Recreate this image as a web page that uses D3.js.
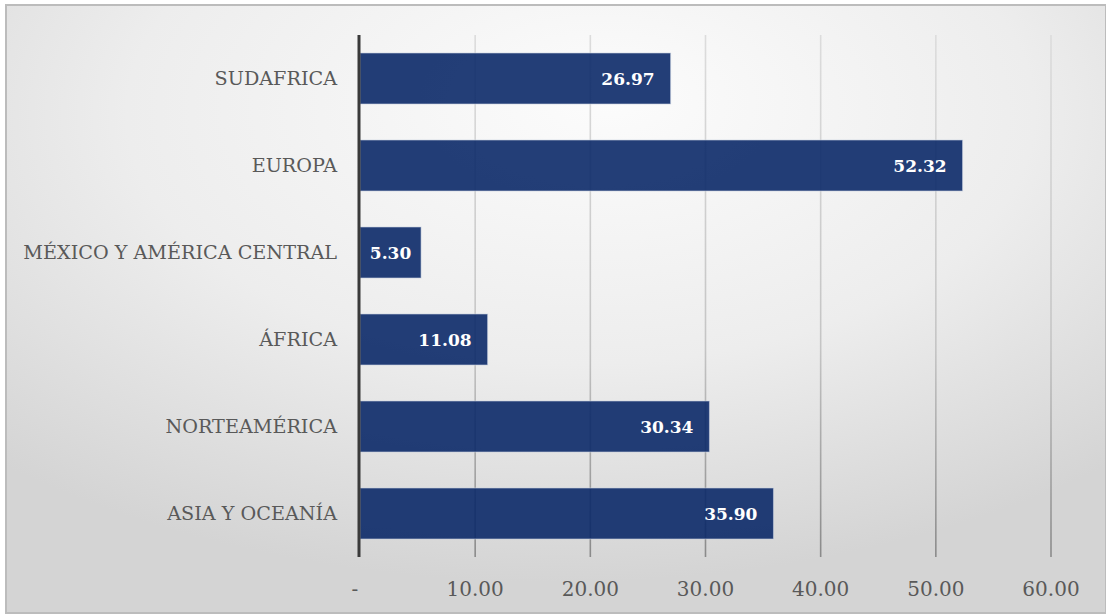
<!DOCTYPE html>
<html>
<head>
<meta charset="utf-8">
<script src="https://cdn.jsdelivr.net/npm/d3@7"></script>
<style>
  html, body { margin: 0; padding: 0; background: #ffffff; }
  svg { display: block; }
</style>
</head>
<body>
<svg id="chart" width="1106" height="615"></svg>
<script>
// Regions, listed top to bottom as drawn
const categories = [
  "SUDAFRICA",
  "EUROPA",
  "MÉXICO Y AMÉRICA CENTRAL",
  "ÁFRICA",
  "NORTEAMÉRICA",
  "ASIA Y OCEANÍA"
];
const values = [26.97, 52.32, 5.30, 11.08, 30.34, 35.90];
const tickValues = [0, 10, 20, 30, 40, 50, 60];
const tickLabels = ["-", "10.00", "20.00", "30.00", "40.00", "50.00", "60.00"];

const W = 1106, H = 615;
const margin = { left: 360, right: 55, top: 35, bottom: 58 };
const serif = "'DejaVu Serif', 'Liberation Serif', serif";

const svg = d3.select("#chart");
const defs = svg.append("defs");

// soft grey panel background
const bg = defs.append("radialGradient")
  .attr("id", "panelGrad")
  .attr("cx", "50%").attr("cy", "20%").attr("r", "75%")
  .attr("fx", "55%").attr("fy", "15%");
bg.append("stop").attr("offset", "0%").attr("stop-color", "#fcfcfc");
bg.append("stop").attr("offset", "55%").attr("stop-color", "#ededed");
bg.append("stop").attr("offset", "100%").attr("stop-color", "#d4d4d4");

svg.append("rect")
  .attr("x", 6).attr("y", 5)
  .attr("width", W - 6).attr("height", 608)
  .attr("fill", "url(#panelGrad)")
  .attr("stroke", "#bcbcbc")
  .attr("stroke-width", 2);

const x = d3.scaleLinear()
  .domain([0, 60])
  .range([margin.left, W - margin.right]);

const y = d3.scaleBand()
  .domain(categories)
  .range([margin.top, H - margin.bottom])
  .paddingInner(0.414)
  .paddingOuter(0.207);

const yTop = margin.top, yBot = H - margin.bottom;

// gridlines fade from light at top to darker grey at the bottom
const gg = defs.append("linearGradient")
  .attr("id", "gridGrad")
  .attr("gradientUnits", "userSpaceOnUse")
  .attr("x1", 0).attr("y1", yTop).attr("x2", 0).attr("y2", yBot);
gg.append("stop").attr("offset", "0%").attr("stop-color", "#dcdcdc");
gg.append("stop").attr("offset", "60%").attr("stop-color", "#c4c4c4");
gg.append("stop").attr("offset", "100%").attr("stop-color", "#8a8a8a");

svg.append("g")
  .selectAll("line")
  .data(tickValues.filter(v => v > 0))
  .join("line")
  .attr("x1", d => x(d)).attr("x2", d => x(d))
  .attr("y1", yTop).attr("y2", yBot)
  .attr("stroke", "url(#gridGrad)")
  .attr("stroke-width", 1.6);

// bars
svg.append("g")
  .selectAll("rect")
  .data(values)
  .join("rect")
  .attr("x", x(0))
  .attr("y", (d, i) => y(categories[i]))
  .attr("width", d => x(d) - x(0))
  .attr("height", y.bandwidth())
  .attr("fill", "#0b2968")
  .attr("fill-opacity", 0.9)
  .attr("stroke", "#c8d0e0")
  .attr("stroke-opacity", 0.6)
  .attr("stroke-width", 1);

// category axis line
svg.append("line")
  .attr("x1", x(0) - 1).attr("x2", x(0) - 1)
  .attr("y1", yTop).attr("y2", yBot)
  .attr("stroke", "#3a3a3a")
  .attr("stroke-width", 3);

// category labels
svg.append("g")
  .selectAll("text")
  .data(categories)
  .join("text")
  .attr("x", x(0) - 23)
  .attr("y", d => y(d) + y.bandwidth() / 2)
  .attr("dy", "0.36em")
  .attr("text-anchor", "end")
  .attr("font-family", serif)
  .attr("font-size", 19.2)
  .attr("fill", "#595959")
  .text(d => d);

// value axis tick labels
svg.append("g")
  .selectAll("text")
  .data(tickValues)
  .join("text")
  .attr("x", (d, i) => x(d) - (i === 0 ? 5 : 0))
  .attr("y", yBot + 39)
  .attr("text-anchor", "middle")
  .attr("font-family", serif)
  .attr("font-size", 20)
  .attr("fill", "#595959")
  .text((d, i) => tickLabels[i]);

// value labels: inside end, centred when the bar is too short
const fmt = d3.format(".2f");
const labels = svg.append("g")
  .selectAll("text")
  .data(values)
  .join("text")
  .attr("y", (d, i) => y(categories[i]) + y.bandwidth() / 2)
  .attr("dy", "0.36em")
  .attr("font-family", serif)
  .attr("font-weight", "bold")
  .attr("font-size", 17)
  .attr("fill", "#ffffff")
  .text(d => fmt(d));

labels.each(function(d) {
  const w = this.getComputedTextLength();
  const barW = x(d) - x(0);
  const pad = 16;
  const t = d3.select(this);
  if (w + 2 * pad > barW) {
    t.attr("x", x(0) + barW / 2).attr("text-anchor", "middle");
  } else {
    t.attr("x", x(d) - pad).attr("text-anchor", "end");
  }
});
</script>
</body>
</html>
